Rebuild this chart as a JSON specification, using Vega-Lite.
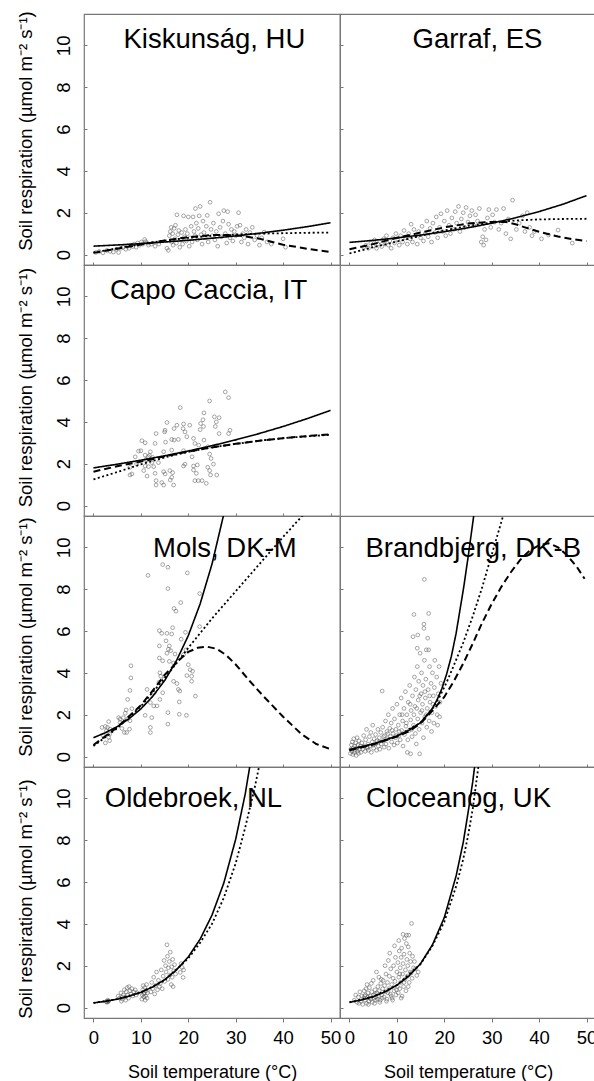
{
"$schema": "https://vega.github.io/schema/vega-lite/v6.json",
"padding": {"left": 15, "top": 10, "right": 0, "bottom": 0},
"autosize": {"type": "pad"},
"background": "white",
"config": {
  "font": "Liberation Sans",
  "view": {"stroke": "#777", "strokeWidth": 1.2},
  "axis": {"grid": false, "domain": false, "tickColor": "#777", "labelColor": "black", "titleColor": "black", "labelFont": "Liberation Sans", "titleFont": "Liberation Sans", "titleFontWeight": "normal"}
},
"datasets": {
"labels": [
{"s":"KI","x":25.5,"y":9.89,"name":"Kiskunság, HU"},
{"s":"GA","x":27.0,"y":9.89,"name":"Garraf, ES"},
{"s":"CA","x":24.3,"y":9.87,"name":"Capo Caccia, IT"},
{"s":"MO","x":27.7,"y":9.53,"name":"Mols, DK-M"},
{"s":"BR","x":26.1,"y":9.56,"name":"Brandbjerg, DK-B"},
{"s":"OL","x":21.1,"y":9.6,"name":"Oldebroek, NL"},
{"s":"CL","x":23.0,"y":9.6,"name":"Cloceanog, UK"}
],
"curves": [
{"s":"KI","t":"solid","x":0,"y":0.4},{"s":"KI","t":"solid","x":5,"y":0.457},{"s":"KI","t":"solid","x":10,"y":0.522},{"s":"KI","t":"solid","x":15,"y":0.597},{"s":"KI","t":"solid","x":20,"y":0.682},{"s":"KI","t":"solid","x":25,"y":0.78},{"s":"KI","t":"solid","x":30,"y":0.891},{"s":"KI","t":"solid","x":35,"y":1.018},{"s":"KI","t":"solid","x":40,"y":1.164},{"s":"KI","t":"solid","x":45,"y":1.33},{"s":"KI","t":"solid","x":50,"y":1.52},
{"s":"KI","t":"dotted","x":0,"y":0.1},{"s":"KI","t":"dotted","x":5,"y":0.3},{"s":"KI","t":"dotted","x":10,"y":0.5},{"s":"KI","t":"dotted","x":15,"y":0.67},{"s":"KI","t":"dotted","x":20,"y":0.8},{"s":"KI","t":"dotted","x":25,"y":0.9},{"s":"KI","t":"dotted","x":30,"y":0.96},{"s":"KI","t":"dotted","x":35,"y":1.0},{"s":"KI","t":"dotted","x":40,"y":1.02},{"s":"KI","t":"dotted","x":45,"y":1.04},{"s":"KI","t":"dotted","x":50,"y":1.05},
{"s":"KI","t":"dashed","x":0,"y":0.08},{"s":"KI","t":"dashed","x":5,"y":0.28},{"s":"KI","t":"dashed","x":10,"y":0.48},{"s":"KI","t":"dashed","x":15,"y":0.67},{"s":"KI","t":"dashed","x":20,"y":0.83},{"s":"KI","t":"dashed","x":25,"y":0.93},{"s":"KI","t":"dashed","x":28,"y":0.94},{"s":"KI","t":"dashed","x":31,"y":0.9},{"s":"KI","t":"dashed","x":35,"y":0.76},{"s":"KI","t":"dashed","x":40,"y":0.47},{"s":"KI","t":"dashed","x":45,"y":0.28},{"s":"KI","t":"dashed","x":50,"y":0.12},
{"s":"GA","t":"solid","x":0,"y":0.58},{"s":"GA","t":"solid","x":5,"y":0.679},{"s":"GA","t":"solid","x":10,"y":0.796},{"s":"GA","t":"solid","x":15,"y":0.932},{"s":"GA","t":"solid","x":20,"y":1.091},{"s":"GA","t":"solid","x":25,"y":1.278},{"s":"GA","t":"solid","x":30,"y":1.497},{"s":"GA","t":"solid","x":35,"y":1.753},{"s":"GA","t":"solid","x":40,"y":2.053},{"s":"GA","t":"solid","x":45,"y":2.404},{"s":"GA","t":"solid","x":50,"y":2.816},
{"s":"GA","t":"dotted","x":0,"y":0.05},{"s":"GA","t":"dotted","x":5,"y":0.35},{"s":"GA","t":"dotted","x":10,"y":0.62},{"s":"GA","t":"dotted","x":15,"y":0.9},{"s":"GA","t":"dotted","x":20,"y":1.15},{"s":"GA","t":"dotted","x":25,"y":1.37},{"s":"GA","t":"dotted","x":30,"y":1.53},{"s":"GA","t":"dotted","x":35,"y":1.63},{"s":"GA","t":"dotted","x":40,"y":1.68},{"s":"GA","t":"dotted","x":45,"y":1.7},{"s":"GA","t":"dotted","x":50,"y":1.71},
{"s":"GA","t":"dashed","x":0,"y":0.25},{"s":"GA","t":"dashed","x":5,"y":0.5},{"s":"GA","t":"dashed","x":10,"y":0.8},{"s":"GA","t":"dashed","x":15,"y":1.05},{"s":"GA","t":"dashed","x":20,"y":1.3},{"s":"GA","t":"dashed","x":25,"y":1.48},{"s":"GA","t":"dashed","x":30,"y":1.56},{"s":"GA","t":"dashed","x":33,"y":1.56},{"s":"GA","t":"dashed","x":35,"y":1.45},{"s":"GA","t":"dashed","x":37,"y":1.3},{"s":"GA","t":"dashed","x":40,"y":1.09},{"s":"GA","t":"dashed","x":44,"y":0.86},{"s":"GA","t":"dashed","x":47,"y":0.74},{"s":"GA","t":"dashed","x":50,"y":0.64},
{"s":"CA","t":"solid","x":0,"y":1.8},{"s":"CA","t":"solid","x":5,"y":1.975},{"s":"CA","t":"solid","x":10,"y":2.167},{"s":"CA","t":"solid","x":15,"y":2.377},{"s":"CA","t":"solid","x":20,"y":2.608},{"s":"CA","t":"solid","x":25,"y":2.862},{"s":"CA","t":"solid","x":30,"y":3.14},{"s":"CA","t":"solid","x":35,"y":3.445},{"s":"CA","t":"solid","x":40,"y":3.78},{"s":"CA","t":"solid","x":45,"y":4.149},{"s":"CA","t":"solid","x":50,"y":4.55},
{"s":"CA","t":"dashed","x":0,"y":1.62},{"s":"CA","t":"dashed","x":5,"y":1.88},{"s":"CA","t":"dashed","x":10,"y":2.1},{"s":"CA","t":"dashed","x":15,"y":2.35},{"s":"CA","t":"dashed","x":20,"y":2.58},{"s":"CA","t":"dashed","x":25,"y":2.78},{"s":"CA","t":"dashed","x":30,"y":2.95},{"s":"CA","t":"dashed","x":35,"y":3.1},{"s":"CA","t":"dashed","x":40,"y":3.22},{"s":"CA","t":"dashed","x":45,"y":3.32},{"s":"CA","t":"dashed","x":50,"y":3.4},
{"s":"CA","t":"dotted","x":0,"y":1.25},{"s":"CA","t":"dotted","x":5,"y":1.6},{"s":"CA","t":"dotted","x":10,"y":1.97},{"s":"CA","t":"dotted","x":15,"y":2.3},{"s":"CA","t":"dotted","x":20,"y":2.57},{"s":"CA","t":"dotted","x":25,"y":2.78},{"s":"CA","t":"dotted","x":30,"y":2.95},{"s":"CA","t":"dotted","x":35,"y":3.1},{"s":"CA","t":"dotted","x":40,"y":3.22},{"s":"CA","t":"dotted","x":45,"y":3.31},{"s":"CA","t":"dotted","x":50,"y":3.38},
{"s":"MO","t":"solid","x":0,"y":0.9},{"s":"MO","t":"solid","x":2.5,"y":1.14},{"s":"MO","t":"solid","x":5,"y":1.43},{"s":"MO","t":"solid","x":7.5,"y":1.81},{"s":"MO","t":"solid","x":10,"y":2.28},{"s":"MO","t":"solid","x":12.5,"y":2.88},{"s":"MO","t":"solid","x":15,"y":3.63},{"s":"MO","t":"solid","x":17.5,"y":4.58},{"s":"MO","t":"solid","x":20,"y":5.78},{"s":"MO","t":"solid","x":22.5,"y":7.3},{"s":"MO","t":"solid","x":25,"y":9.2},{"s":"MO","t":"solid","x":27.5,"y":11.6},{"s":"MO","t":"solid","x":28,"y":12.2},
{"s":"MO","t":"dotted","x":0,"y":0.5},{"s":"MO","t":"dotted","x":5,"y":1.35},{"s":"MO","t":"dotted","x":10,"y":2.4},{"s":"MO","t":"dotted","x":15,"y":3.75},{"s":"MO","t":"dotted","x":18,"y":4.6},{"s":"MO","t":"dotted","x":20,"y":5.2},{"s":"MO","t":"dotted","x":25,"y":6.6},{"s":"MO","t":"dotted","x":30,"y":7.9},{"s":"MO","t":"dotted","x":35,"y":9.2},{"s":"MO","t":"dotted","x":40,"y":10.5},{"s":"MO","t":"dotted","x":44,"y":11.5},{"s":"MO","t":"dotted","x":45,"y":11.75},
{"s":"MO","t":"dashed","x":0,"y":0.55},{"s":"MO","t":"dashed","x":5,"y":1.4},{"s":"MO","t":"dashed","x":10,"y":2.45},{"s":"MO","t":"dashed","x":13,"y":3.3},{"s":"MO","t":"dashed","x":15,"y":3.9},{"s":"MO","t":"dashed","x":18,"y":4.6},{"s":"MO","t":"dashed","x":20,"y":5.0},{"s":"MO","t":"dashed","x":22,"y":5.2},{"s":"MO","t":"dashed","x":24,"y":5.25},{"s":"MO","t":"dashed","x":26,"y":5.15},{"s":"MO","t":"dashed","x":28,"y":4.85},{"s":"MO","t":"dashed","x":30,"y":4.4},{"s":"MO","t":"dashed","x":33,"y":3.6},{"s":"MO","t":"dashed","x":36,"y":2.85},{"s":"MO","t":"dashed","x":40,"y":1.9},{"s":"MO","t":"dashed","x":44,"y":1.05},{"s":"MO","t":"dashed","x":47,"y":0.6},{"s":"MO","t":"dashed","x":50,"y":0.35},
{"s":"BR","t":"solid","x":0,"y":0.33},{"s":"BR","t":"solid","x":5,"y":0.6},{"s":"BR","t":"solid","x":10,"y":0.98},{"s":"BR","t":"solid","x":12.5,"y":1.25},{"s":"BR","t":"solid","x":15,"y":1.62},{"s":"BR","t":"solid","x":17.5,"y":2.3},{"s":"BR","t":"solid","x":18.5,"y":2.73},{"s":"BR","t":"solid","x":19.5,"y":3.25},{"s":"BR","t":"solid","x":20.5,"y":3.95},{"s":"BR","t":"solid","x":21.5,"y":4.8},{"s":"BR","t":"solid","x":22.5,"y":5.9},{"s":"BR","t":"solid","x":23.3,"y":7.0},{"s":"BR","t":"solid","x":24.1,"y":8.1},{"s":"BR","t":"solid","x":25,"y":9.5},{"s":"BR","t":"solid","x":26.2,"y":11.5},{"s":"BR","t":"solid","x":26.5,"y":12.0},
{"s":"BR","t":"dotted","x":0,"y":0.33},{"s":"BR","t":"dotted","x":5,"y":0.6},{"s":"BR","t":"dotted","x":10,"y":0.98},{"s":"BR","t":"dotted","x":15,"y":1.62},{"s":"BR","t":"dotted","x":17.5,"y":2.3},{"s":"BR","t":"dotted","x":19,"y":2.85},{"s":"BR","t":"dotted","x":20.5,"y":3.55},{"s":"BR","t":"dotted","x":22,"y":4.35},{"s":"BR","t":"dotted","x":24,"y":5.45},{"s":"BR","t":"dotted","x":26,"y":6.7},{"s":"BR","t":"dotted","x":28,"y":8.1},{"s":"BR","t":"dotted","x":30,"y":9.65},{"s":"BR","t":"dotted","x":32.4,"y":11.5},{"s":"BR","t":"dotted","x":32.8,"y":11.9},
{"s":"BR","t":"dashed","x":0,"y":0.3},{"s":"BR","t":"dashed","x":5,"y":0.57},{"s":"BR","t":"dashed","x":10,"y":0.95},{"s":"BR","t":"dashed","x":12.5,"y":1.2},{"s":"BR","t":"dashed","x":15,"y":1.58},{"s":"BR","t":"dashed","x":17.5,"y":2.2},{"s":"BR","t":"dashed","x":20,"y":2.85},{"s":"BR","t":"dashed","x":22,"y":3.6},{"s":"BR","t":"dashed","x":24,"y":4.45},{"s":"BR","t":"dashed","x":26,"y":5.4},{"s":"BR","t":"dashed","x":28,"y":6.4},{"s":"BR","t":"dashed","x":30,"y":7.3},{"s":"BR","t":"dashed","x":32,"y":8.1},{"s":"BR","t":"dashed","x":34,"y":8.8},{"s":"BR","t":"dashed","x":36,"y":9.4},{"s":"BR","t":"dashed","x":38,"y":9.85},{"s":"BR","t":"dashed","x":40,"y":10.1},{"s":"BR","t":"dashed","x":42,"y":10.2},{"s":"BR","t":"dashed","x":44,"y":10.0},{"s":"BR","t":"dashed","x":46,"y":9.6},{"s":"BR","t":"dashed","x":48,"y":9.05},{"s":"BR","t":"dashed","x":49.6,"y":8.5},
{"s":"OL","t":"solid","x":0,"y":0.22},{"s":"OL","t":"solid","x":2.5,"y":0.297},{"s":"OL","t":"solid","x":5,"y":0.401},{"s":"OL","t":"solid","x":7.5,"y":0.541},{"s":"OL","t":"solid","x":10,"y":0.73},{"s":"OL","t":"solid","x":12.5,"y":0.986},{"s":"OL","t":"solid","x":15,"y":1.33},{"s":"OL","t":"solid","x":17.5,"y":1.8},{"s":"OL","t":"solid","x":20,"y":2.42},{"s":"OL","t":"solid","x":22.5,"y":3.27},{"s":"OL","t":"solid","x":25,"y":4.42},{"s":"OL","t":"solid","x":27.5,"y":5.96},{"s":"OL","t":"solid","x":30,"y":8.05},{"s":"OL","t":"solid","x":32,"y":10.2},{"s":"OL","t":"solid","x":33.5,"y":12.25},
{"s":"OL","t":"dotted","x":0,"y":0.22},{"s":"OL","t":"dotted","x":5,"y":0.4},{"s":"OL","t":"dotted","x":10,"y":0.72},{"s":"OL","t":"dotted","x":15,"y":1.3},{"s":"OL","t":"dotted","x":20,"y":2.35},{"s":"OL","t":"dotted","x":22.5,"y":3.1},{"s":"OL","t":"dotted","x":25,"y":4.0},{"s":"OL","t":"dotted","x":27.5,"y":5.25},{"s":"OL","t":"dotted","x":30,"y":6.9},{"s":"OL","t":"dotted","x":32,"y":8.6},{"s":"OL","t":"dotted","x":34,"y":10.5},{"s":"OL","t":"dotted","x":35,"y":11.6},
{"s":"CL","t":"solid","x":0,"y":0.25},{"s":"CL","t":"solid","x":2.5,"y":0.36},{"s":"CL","t":"solid","x":5,"y":0.52},{"s":"CL","t":"solid","x":7.5,"y":0.75},{"s":"CL","t":"solid","x":10,"y":1.07},{"s":"CL","t":"solid","x":12.5,"y":1.5},{"s":"CL","t":"solid","x":15,"y":2.1},{"s":"CL","t":"solid","x":17.5,"y":3.0},{"s":"CL","t":"solid","x":20,"y":4.3},{"s":"CL","t":"solid","x":22.5,"y":6.3},{"s":"CL","t":"solid","x":24,"y":7.9},{"s":"CL","t":"solid","x":25,"y":9.3},{"s":"CL","t":"solid","x":26,"y":10.8},{"s":"CL","t":"solid","x":26.5,"y":11.7},
{"s":"CL","t":"dotted","x":0,"y":0.25},{"s":"CL","t":"dotted","x":5,"y":0.52},{"s":"CL","t":"dotted","x":10,"y":1.07},{"s":"CL","t":"dotted","x":15,"y":2.08},{"s":"CL","t":"dotted","x":17.5,"y":2.95},{"s":"CL","t":"dotted","x":20,"y":4.1},{"s":"CL","t":"dotted","x":22.5,"y":5.8},{"s":"CL","t":"dotted","x":24,"y":7.1},{"s":"CL","t":"dotted","x":25,"y":8.2},{"s":"CL","t":"dotted","x":26,"y":9.5},{"s":"CL","t":"dotted","x":27,"y":11.2},{"s":"CL","t":"dotted","x":27.3,"y":11.7}
],
"pts": [
{"s":"KI","x":0.5,"y":0.1},{"s":"KI","x":1.2,"y":0.15},{"s":"KI","x":2,"y":0.08},{"s":"KI","x":2.8,"y":0.2},{"s":"KI","x":3.5,"y":0.15},{"s":"KI","x":4.2,"y":0.12},{"s":"KI","x":4.8,"y":0.25},{"s":"KI","x":5.3,"y":0.1},{"s":"KI","x":5.8,"y":0.3},{"s":"KI","x":6.3,"y":0.35},{"s":"KI","x":6.8,"y":0.25},{"s":"KI","x":7.2,"y":0.4},{"s":"KI","x":7.5,"y":0.3},{"s":"KI","x":7.9,"y":0.45},{"s":"KI","x":8.3,"y":0.38},{"s":"KI","x":8.6,"y":0.5},{"s":"KI","x":9,"y":0.35},{"s":"KI","x":9.3,"y":0.55},{"s":"KI","x":9.7,"y":0.45},{"s":"KI","x":10.1,"y":0.6},{"s":"KI","x":10.4,"y":0.5},{"s":"KI","x":10.8,"y":0.72},{"s":"KI","x":11,"y":0.62},{"s":"KI","x":11.3,"y":0.55},{"s":"KI","x":11.6,"y":0.45},{"s":"KI","x":12.2,"y":0.5},{"s":"KI","x":13,"y":0.4},{"s":"KI","x":13.8,"y":0.5},
{"s":"KI","x":15.5,"y":0.3},{"s":"KI","x":15.8,"y":0.2},{"s":"KI","x":16,"y":0.9},{"s":"KI","x":16.2,"y":1.1},{"s":"KI","x":16.4,"y":1.3},{"s":"KI","x":16.5,"y":0.6},{"s":"KI","x":16.7,"y":1.0},{"s":"KI","x":16.8,"y":0.45},{"s":"KI","x":17,"y":1.25},{"s":"KI","x":17.2,"y":0.75},{"s":"KI","x":17.3,"y":1.4},{"s":"KI","x":17.5,"y":0.55},{"s":"KI","x":17.6,"y":1.9},{"s":"KI","x":17.8,"y":0.95},{"s":"KI","x":18,"y":1.15},{"s":"KI","x":18.2,"y":0.35},{"s":"KI","x":18.4,"y":0.7},{"s":"KI","x":18.6,"y":1.05},{"s":"KI","x":18.8,"y":0.5},{"s":"KI","x":19,"y":1.85},{"s":"KI","x":19.2,"y":0.85},{"s":"KI","x":19.4,"y":1.2},{"s":"KI","x":19.6,"y":0.65},{"s":"KI","x":19.8,"y":1.0},{"s":"KI","x":20,"y":1.8},{"s":"KI","x":20.2,"y":0.4},{"s":"KI","x":20.4,"y":0.8},{"s":"KI","x":20.6,"y":1.35},{"s":"KI","x":20.8,"y":0.6},{"s":"KI","x":21,"y":1.8},{"s":"KI","x":21.2,"y":1.1},{"s":"KI","x":21.4,"y":0.9},{"s":"KI","x":21.5,"y":2.2},{"s":"KI","x":21.7,"y":1.5},{"s":"KI","x":21.9,"y":0.7},{"s":"KI","x":22.1,"y":1.25},{"s":"KI","x":22.3,"y":1.85},{"s":"KI","x":22.5,"y":2.3},{"s":"KI","x":22.7,"y":0.95},{"s":"KI","x":22.9,"y":0.5},{"s":"KI","x":23.1,"y":1.6},{"s":"KI","x":23.3,"y":1.05},{"s":"KI","x":23.5,"y":0.8},{"s":"KI","x":23.8,"y":1.35},{"s":"KI","x":24,"y":1.87},{"s":"KI","x":24.2,"y":0.6},{"s":"KI","x":24.6,"y":2.5},{"s":"KI","x":24.8,"y":1.2},{"s":"KI","x":25,"y":0.9},{"s":"KI","x":25.3,"y":1.5},{"s":"KI","x":25.6,"y":0.7},{"s":"KI","x":25.9,"y":1.1},{"s":"KI","x":26.2,"y":0.4},{"s":"KI","x":26.4,"y":1.95},{"s":"KI","x":26.7,"y":1.3},{"s":"KI","x":27,"y":0.85},{"s":"KI","x":27.3,"y":1.6},{"s":"KI","x":27.5,"y":2.1},{"s":"KI","x":27.8,"y":1.0},{"s":"KI","x":28.1,"y":0.55},{"s":"KI","x":28.3,"y":2.05},{"s":"KI","x":28.5,"y":1.45},{"s":"KI","x":28.8,"y":0.8},{"s":"KI","x":29.1,"y":1.2},{"s":"KI","x":29.4,"y":0.65},{"s":"KI","x":29.7,"y":1.1},{"s":"KI","x":30,"y":0.9},{"s":"KI","x":30.3,"y":1.35},{"s":"KI","x":30.6,"y":2.0},{"s":"KI","x":30.9,"y":1.4},{"s":"KI","x":31.2,"y":0.6},{"s":"KI","x":31.5,"y":1.0},{"s":"KI","x":31.8,"y":0.8},{"s":"KI","x":32.2,"y":1.2},{"s":"KI","x":32.6,"y":0.5},{"s":"KI","x":33,"y":1.05},{"s":"KI","x":33.5,"y":1.3},{"s":"KI","x":34,"y":0.7},{"s":"KI","x":34.5,"y":0.9},{"s":"KI","x":35,"y":0.45},{"s":"KI","x":35.5,"y":0.8},{"s":"KI","x":36,"y":1.07},{"s":"KI","x":36.6,"y":0.6},{"s":"KI","x":37.5,"y":0.5},{"s":"KI","x":40,"y":0.75},{"s":"KI","x":40.5,"y":0.35},
{"s":"GA","x":3,"y":0.35},{"s":"GA","x":3.5,"y":0.45},{"s":"GA","x":4,"y":0.3},{"s":"GA","x":4.5,"y":0.55},{"s":"GA","x":5,"y":0.4},{"s":"GA","x":5.3,"y":0.7},{"s":"GA","x":5.7,"y":0.3},{"s":"GA","x":6,"y":0.5},{"s":"GA","x":6.4,"y":0.62},{"s":"GA","x":6.8,"y":0.38},{"s":"GA","x":7.2,"y":0.75},{"s":"GA","x":7.5,"y":0.5},{"s":"GA","x":7.8,"y":0.9},{"s":"GA","x":8.2,"y":0.45},{"s":"GA","x":8.5,"y":0.65},{"s":"GA","x":8.8,"y":0.3},{"s":"GA","x":9.2,"y":0.8},{"s":"GA","x":9.5,"y":0.55},{"s":"GA","x":9.8,"y":1.0},{"s":"GA","x":10.2,"y":0.7},{"s":"GA","x":10.5,"y":0.45},{"s":"GA","x":10.8,"y":0.9},{"s":"GA","x":11.2,"y":0.6},{"s":"GA","x":11.5,"y":1.15},{"s":"GA","x":11.8,"y":0.8},{"s":"GA","x":12.2,"y":0.5},{"s":"GA","x":12.5,"y":1.0},{"s":"GA","x":12.8,"y":0.75},{"s":"GA","x":13,"y":1.45},{"s":"GA","x":13.3,"y":0.6},{"s":"GA","x":13.6,"y":1.2},{"s":"GA","x":14,"y":0.9},{"s":"GA","x":14.3,"y":0.5},{"s":"GA","x":14.6,"y":1.1},{"s":"GA","x":15,"y":0.8},{"s":"GA","x":15.3,"y":1.35},{"s":"GA","x":15.6,"y":0.65},{"s":"GA","x":16,"y":1.0},{"s":"GA","x":16.3,"y":1.6},{"s":"GA","x":16.6,"y":0.85},{"s":"GA","x":17,"y":1.25},{"s":"GA","x":17.3,"y":0.6},{"s":"GA","x":17.6,"y":1.5},{"s":"GA","x":18,"y":1.05},{"s":"GA","x":18.3,"y":1.8},{"s":"GA","x":18.6,"y":0.8},{"s":"GA","x":19,"y":1.3},{"s":"GA","x":19.3,"y":1.95},{"s":"GA","x":19.6,"y":1.1},{"s":"GA","x":20,"y":1.6},{"s":"GA","x":20.3,"y":0.9},{"s":"GA","x":20.6,"y":2.1},{"s":"GA","x":21,"y":1.4},{"s":"GA","x":21.3,"y":1.0},{"s":"GA","x":21.6,"y":1.75},{"s":"GA","x":22,"y":1.2},{"s":"GA","x":22.3,"y":2.05},{"s":"GA","x":22.6,"y":1.5},{"s":"GA","x":23,"y":2.3},{"s":"GA","x":23.3,"y":1.1},{"s":"GA","x":23.6,"y":1.7},{"s":"GA","x":24,"y":2.0},{"s":"GA","x":24.3,"y":1.3},{"s":"GA","x":24.6,"y":2.25},{"s":"GA","x":25,"y":1.55},{"s":"GA","x":25.4,"y":1.85},{"s":"GA","x":25.8,"y":2.1},{"s":"GA","x":26.2,"y":1.4},{"s":"GA","x":26.6,"y":1.9},{"s":"GA","x":27,"y":1.6},{"s":"GA","x":27.4,"y":2.2},{"s":"GA","x":27.8,"y":0.6},{"s":"GA","x":28.1,"y":0.85},{"s":"GA","x":28.3,"y":0.45},{"s":"GA","x":28.5,"y":1.2},{"s":"GA","x":28.8,"y":0.7},{"s":"GA","x":29.1,"y":1.75},{"s":"GA","x":29.4,"y":2.15},{"s":"GA","x":29.8,"y":1.3},{"s":"GA","x":30.2,"y":1.9},{"s":"GA","x":30.6,"y":1.55},{"s":"GA","x":31,"y":2.15},{"s":"GA","x":31.5,"y":1.2},{"s":"GA","x":32,"y":1.5},{"s":"GA","x":32.5,"y":2.2},{"s":"GA","x":33,"y":1.0},{"s":"GA","x":33.5,"y":1.7},{"s":"GA","x":34,"y":0.75},{"s":"GA","x":34.4,"y":2.6},{"s":"GA","x":35.2,"y":1.2},{"s":"GA","x":35.8,"y":1.5},{"s":"GA","x":36.5,"y":1.85},{"s":"GA","x":37,"y":1.1},{"s":"GA","x":37.5,"y":2.0},{"s":"GA","x":38,"y":1.3},{"s":"GA","x":38.5,"y":0.9},{"s":"GA","x":39,"y":1.1},{"s":"GA","x":40.5,"y":0.75},{"s":"GA","x":42,"y":0.93},{"s":"GA","x":44,"y":1.17},{"s":"GA","x":47,"y":0.55},
{"s":"CA","x":27.8,"y":5.43},{"s":"CA","x":28.5,"y":5.16},{"s":"CA","x":24.5,"y":5.0},{"s":"CA","x":18.3,"y":4.68},{"s":"CA","x":23.3,"y":4.43},{"s":"CA","x":25.5,"y":4.24},{"s":"CA","x":26.5,"y":4.2},{"s":"CA","x":23.1,"y":4.1},{"s":"CA","x":25.9,"y":4.0},{"s":"CA","x":15.5,"y":3.97},{"s":"CA","x":19,"y":3.9},{"s":"CA","x":17.6,"y":3.84},{"s":"CA","x":20.3,"y":3.84},{"s":"CA","x":22.6,"y":3.92},{"s":"CA","x":23.2,"y":3.78},{"s":"CA","x":25.7,"y":3.78},{"s":"CA","x":15.1,"y":3.6},{"s":"CA","x":17,"y":3.68},{"s":"CA","x":18.9,"y":3.68},{"s":"CA","x":19.3,"y":3.52},{"s":"CA","x":22.5,"y":3.63},{"s":"CA","x":28.8,"y":3.6},{"s":"CA","x":28.5,"y":3.44},{"s":"CA","x":26.5,"y":3.44},{"s":"CA","x":13.2,"y":3.44},{"s":"CA","x":15,"y":3.52},{"s":"CA","x":16.5,"y":3.16},{"s":"CA","x":17.9,"y":3.16},{"s":"CA","x":19.7,"y":3.29},{"s":"CA","x":21.1,"y":3.21},{"s":"CA","x":21.4,"y":2.97},{"s":"CA","x":22.2,"y":2.89},{"s":"CA","x":23.3,"y":3.13},{"s":"CA","x":24.1,"y":2.81},{"s":"CA","x":10.2,"y":3.1},{"s":"CA","x":10.9,"y":3.0},{"s":"CA","x":13,"y":2.97},{"s":"CA","x":15.2,"y":3.03},{"s":"CA","x":17,"y":3.13},{"s":"CA","x":10,"y":2.62},{"s":"CA","x":12,"y":2.57},{"s":"CA","x":14.8,"y":2.57},{"s":"CA","x":16.5,"y":2.65},{"s":"CA","x":19,"y":2.62},{"s":"CA","x":8.8,"y":2.33},{"s":"CA","x":10.9,"y":2.41},{"s":"CA","x":11.6,"y":2.33},{"s":"CA","x":11.3,"y":2.17},{"s":"CA","x":12.3,"y":2.05},{"s":"CA","x":13.7,"y":2.05},{"s":"CA","x":9.1,"y":1.98},{"s":"CA","x":10.9,"y":1.89},{"s":"CA","x":11.6,"y":1.86},{"s":"CA","x":7.7,"y":1.83},{"s":"CA","x":8.1,"y":1.51},{"s":"CA","x":10.6,"y":1.67},{"s":"CA","x":11.3,"y":1.41},{"s":"CA","x":12.7,"y":1.86},{"s":"CA","x":13,"y":1.54},{"s":"CA","x":14.8,"y":1.62},{"s":"CA","x":15.1,"y":1.51},{"s":"CA","x":16.1,"y":1.67},{"s":"CA","x":16.7,"y":1.57},{"s":"CA","x":16.5,"y":1.35},{"s":"CA","x":16.2,"y":1.22},{"s":"CA","x":13.2,"y":1.19},{"s":"CA","x":14.4,"y":1.1},{"s":"CA","x":14.8,"y":0.98},{"s":"CA","x":13.2,"y":0.98},{"s":"CA","x":16.9,"y":0.98},{"s":"CA","x":19,"y":1.89},{"s":"CA","x":19.3,"y":1.98},{"s":"CA","x":21.1,"y":1.89},{"s":"CA","x":21.9,"y":1.94},{"s":"CA","x":21.1,"y":1.7},{"s":"CA","x":21.7,"y":1.54},{"s":"CA","x":24.1,"y":1.83},{"s":"CA","x":24.5,"y":1.67},{"s":"CA","x":24.7,"y":1.46},{"s":"CA","x":26,"y":1.46},{"s":"CA","x":25.3,"y":1.98},{"s":"CA","x":24.8,"y":2.25},{"s":"CA","x":24.5,"y":2.46},{"s":"CA","x":21.4,"y":1.19},{"s":"CA","x":22.1,"y":1.19},{"s":"CA","x":22.9,"y":1.19},{"s":"CA","x":23.8,"y":1.06},{"s":"CA","x":20.8,"y":2.33},{"s":"CA","x":7.7,"y":1.46},{"s":"CA","x":9.5,"y":2.6},{"s":"CA","x":11,"y":2.2},{"s":"CA","x":11.8,"y":2.4},{"s":"CA","x":12.5,"y":2.3},
{"s":"MO","x":14.6,"y":9.18},{"s":"MO","x":15.7,"y":9.05},{"s":"MO","x":11.5,"y":8.66},{"s":"MO","x":19.8,"y":8.78},{"s":"MO","x":15.7,"y":8.03},{"s":"MO","x":22.4,"y":7.79},{"s":"MO","x":18.4,"y":7.36},{"s":"MO","x":17,"y":7.08},{"s":"MO","x":17.4,"y":6.95},{"s":"MO","x":22.4,"y":6.21},{"s":"MO","x":18.5,"y":5.61},{"s":"MO","x":16.7,"y":6.16},{"s":"MO","x":13.9,"y":6.02},{"s":"MO","x":14.4,"y":5.89},{"s":"MO","x":15.5,"y":5.89},{"s":"MO","x":16.5,"y":5.86},{"s":"MO","x":19.4,"y":5.94},{"s":"MO","x":15.3,"y":5.53},{"s":"MO","x":13.9,"y":5.29},{"s":"MO","x":16,"y":5.29},{"s":"MO","x":15.8,"y":5.13},{"s":"MO","x":16.3,"y":5.06},{"s":"MO","x":17.2,"y":4.9},{"s":"MO","x":15.5,"y":4.94},{"s":"MO","x":13.9,"y":4.71},{"s":"MO","x":14.6,"y":4.58},{"s":"MO","x":16,"y":4.55},{"s":"MO","x":16.9,"y":4.47},{"s":"MO","x":19,"y":4.87},{"s":"MO","x":19.5,"y":5.1},{"s":"MO","x":20,"y":4.39},{"s":"MO","x":20.4,"y":4.15},{"s":"MO","x":20.9,"y":4.08},{"s":"MO","x":20.7,"y":3.84},{"s":"MO","x":20.7,"y":3.6},{"s":"MO","x":19.7,"y":3.87},{"s":"MO","x":14,"y":4.0},{"s":"MO","x":14.2,"y":3.84},{"s":"MO","x":14.9,"y":3.71},{"s":"MO","x":13.8,"y":3.55},{"s":"MO","x":16.9,"y":3.6},{"s":"MO","x":17.6,"y":3.49},{"s":"MO","x":14.6,"y":3.05},{"s":"MO","x":17.9,"y":3.21},{"s":"MO","x":18.2,"y":3.13},{"s":"MO","x":21.5,"y":2.89},{"s":"MO","x":14,"y":2.73},{"s":"MO","x":11.3,"y":3.21},{"s":"MO","x":12.8,"y":3.05},{"s":"MO","x":12,"y":2.58},{"s":"MO","x":12.7,"y":2.42},{"s":"MO","x":13.4,"y":2.42},{"s":"MO","x":18.1,"y":2.61},{"s":"MO","x":15.7,"y":2.1},{"s":"MO","x":18.1,"y":2.02},{"s":"MO","x":19.6,"y":1.97},{"s":"MO","x":10.9,"y":1.97},{"s":"MO","x":12.3,"y":1.86},{"s":"MO","x":15.7,"y":1.55},{"s":"MO","x":7.9,"y":4.34},{"s":"MO","x":7.9,"y":3.76},{"s":"MO","x":7.7,"y":3.16},{"s":"MO","x":7.2,"y":2.73},{"s":"MO","x":8.1,"y":2.29},{"s":"MO","x":6.9,"y":2.23},{"s":"MO","x":6.7,"y":2.07},{"s":"MO","x":5.3,"y":1.86},{"s":"MO","x":5.6,"y":1.79},{"s":"MO","x":6.3,"y":1.86},{"s":"MO","x":7.2,"y":1.79},{"s":"MO","x":7.7,"y":1.71},{"s":"MO","x":3.2,"y":1.67},{"s":"MO","x":2.5,"y":1.44},{"s":"MO","x":2.95,"y":1.39},{"s":"MO","x":3.5,"y":1.31},{"s":"MO","x":6,"y":1.34},{"s":"MO","x":6.5,"y":1.15},{"s":"MO","x":7,"y":1.15},{"s":"MO","x":7.6,"y":1.31},{"s":"MO","x":3.4,"y":1.07},{"s":"MO","x":3.2,"y":0.92},{"s":"MO","x":3.4,"y":0.76},{"s":"MO","x":2.5,"y":0.65},{"s":"MO","x":12,"y":1.39},{"s":"MO","x":12,"y":1.15},{"s":"MO","x":1.8,"y":1.39},{"s":"MO","x":2.7,"y":1.23},{"s":"MO","x":5.6,"y":1.63},{"s":"MO","x":2.1,"y":1.0},
{"s":"BR","x":0.2,"y":0.15},{"s":"BR","x":0.3,"y":0.35},{"s":"BR","x":0.4,"y":0.55},{"s":"BR","x":0.5,"y":0.25},{"s":"BR","x":0.6,"y":0.7},{"s":"BR","x":0.7,"y":0.1},{"s":"BR","x":0.8,"y":0.4},{"s":"BR","x":0.9,"y":0.85},{"s":"BR","x":1.0,"y":0.2},{"s":"BR","x":1.1,"y":0.5},{"s":"BR","x":1.2,"y":0.3},{"s":"BR","x":1.3,"y":0.65},{"s":"BR","x":1.4,"y":0.05},{"s":"BR","x":1.5,"y":0.4},{"s":"BR","x":1.6,"y":0.9},{"s":"BR","x":1.7,"y":0.25},{"s":"BR","x":1.8,"y":0.55},{"s":"BR","x":1.9,"y":0.15},{"s":"BR","x":2.0,"y":0.75},{"s":"BR","x":2.1,"y":0.35},{"s":"BR","x":2.3,"y":0.5},{"s":"BR","x":2.4,"y":0.2},
{"s":"BR","x":2.6,"y":0.65},{"s":"BR","x":2.8,"y":0.35},{"s":"BR","x":3.0,"y":1.0},{"s":"BR","x":3.1,"y":0.5},{"s":"BR","x":3.3,"y":0.25},{"s":"BR","x":3.4,"y":0.8},{"s":"BR","x":3.6,"y":1.3},{"s":"BR","x":3.7,"y":0.45},{"s":"BR","x":3.9,"y":0.6},{"s":"BR","x":4.0,"y":0.3},{"s":"BR","x":4.2,"y":0.95},{"s":"BR","x":4.3,"y":0.5},{"s":"BR","x":4.5,"y":1.15},{"s":"BR","x":4.6,"y":0.2},{"s":"BR","x":4.8,"y":0.7},{"s":"BR","x":4.9,"y":1.5},{"s":"BR","x":5.1,"y":0.4},{"s":"BR","x":5.2,"y":0.85},{"s":"BR","x":5.4,"y":0.6},{"s":"BR","x":5.5,"y":1.05},{"s":"BR","x":5.7,"y":0.3},{"s":"BR","x":5.8,"y":0.75},{"s":"BR","x":6.0,"y":1.3},{"s":"BR","x":6.1,"y":0.5},
{"s":"BR","x":6.3,"y":0.9},{"s":"BR","x":6.4,"y":0.35},{"s":"BR","x":6.6,"y":1.15},{"s":"BR","x":6.7,"y":0.6},{"s":"BR","x":6.9,"y":3.13},{"s":"BR","x":7.0,"y":1.4},{"s":"BR","x":7.1,"y":0.75},{"s":"BR","x":7.3,"y":0.45},{"s":"BR","x":7.4,"y":1.0},{"s":"BR","x":7.6,"y":1.7},{"s":"BR","x":7.7,"y":0.6},{"s":"BR","x":7.9,"y":1.2},{"s":"BR","x":8.0,"y":0.85},{"s":"BR","x":8.2,"y":2.0},{"s":"BR","x":8.3,"y":0.4},{"s":"BR","x":8.5,"y":1.35},{"s":"BR","x":8.6,"y":0.95},{"s":"BR","x":8.8,"y":1.6},{"s":"BR","x":8.9,"y":0.7},{"s":"BR","x":9.1,"y":2.3},{"s":"BR","x":9.2,"y":1.1},{"s":"BR","x":9.4,"y":0.55},{"s":"BR","x":9.5,"y":1.8},{"s":"BR","x":9.7,"y":0.9},{"s":"BR","x":9.8,"y":1.3},{"s":"BR","x":10.0,"y":2.5},{"s":"BR","x":10.1,"y":0.65},
{"s":"BR","x":10.3,"y":1.5},{"s":"BR","x":10.4,"y":1.0},{"s":"BR","x":10.6,"y":2.0},{"s":"BR","x":10.7,"y":0.8},{"s":"BR","x":10.9,"y":2.8},{"s":"BR","x":11.0,"y":1.25},{"s":"BR","x":11.2,"y":1.7},{"s":"BR","x":11.3,"y":0.5},{"s":"BR","x":11.5,"y":2.3},{"s":"BR","x":11.6,"y":1.05},{"s":"BR","x":11.8,"y":3.1},{"s":"BR","x":11.9,"y":1.45},{"s":"BR","x":12.1,"y":2.0},{"s":"BR","x":12.2,"y":0.2},{"s":"BR","x":12.3,"y":0.8},{"s":"BR","x":12.4,"y":2.6},{"s":"BR","x":12.6,"y":1.25},{"s":"BR","x":12.7,"y":3.4},{"s":"BR","x":12.9,"y":1.75},{"s":"BR","x":12.9,"y":0.13},{"s":"BR","x":13.0,"y":2.2},{"s":"BR","x":13.2,"y":0.95},{"s":"BR","x":13.3,"y":2.9},{"s":"BR","x":13.4,"y":5.73},{"s":"BR","x":13.5,"y":1.5},{"s":"BR","x":13.6,"y":6.79},{"s":"BR","x":13.7,"y":3.8},{"s":"BR","x":13.8,"y":2.4},{"s":"BR","x":13.9,"y":1.1},{"s":"BR","x":14.0,"y":3.2},{"s":"BR","x":14.1,"y":0.6},
{"s":"BR","x":14.3,"y":4.3},{"s":"BR","x":14.3,"y":5.18},{"s":"BR","x":14.4,"y":5.81},{"s":"BR","x":14.4,"y":1.8},{"s":"BR","x":14.5,"y":2.7},{"s":"BR","x":14.6,"y":3.6},{"s":"BR","x":14.7,"y":1.3},{"s":"BR","x":14.8,"y":0.13},{"s":"BR","x":14.9,"y":4.94},{"s":"BR","x":15.0,"y":2.1},{"s":"BR","x":15.1,"y":3.0},{"s":"BR","x":15.2,"y":4.0},{"s":"BR","x":15.3,"y":1.6},{"s":"BR","x":15.4,"y":2.5},{"s":"BR","x":15.5,"y":3.4},{"s":"BR","x":15.6,"y":0.9},{"s":"BR","x":15.7,"y":6.33},{"s":"BR","x":15.7,"y":6.13},{"s":"BR","x":15.8,"y":8.47},{"s":"BR","x":15.8,"y":4.6},{"s":"BR","x":15.9,"y":1.9},{"s":"BR","x":16.0,"y":2.8},{"s":"BR","x":16.1,"y":3.7},{"s":"BR","x":16.2,"y":5.1},{"s":"BR","x":16.3,"y":1.4},{"s":"BR","x":16.4,"y":2.3},{"s":"BR","x":16.5,"y":5.66},{"s":"BR","x":16.6,"y":3.2},{"s":"BR","x":16.7,"y":6.84},{"s":"BR","x":16.7,"y":5.1},{"s":"BR","x":16.8,"y":1.7},{"s":"BR","x":16.9,"y":4.3},{"s":"BR","x":17.0,"y":2.6},
{"s":"BR","x":17.2,"y":3.5},{"s":"BR","x":17.3,"y":1.2},{"s":"BR","x":17.4,"y":2.1},{"s":"BR","x":17.5,"y":4.0},{"s":"BR","x":17.7,"y":2.9},{"s":"BR","x":17.8,"y":1.6},{"s":"BR","x":17.9,"y":3.3},{"s":"BR","x":18.0,"y":4.6},{"s":"BR","x":18.2,"y":2.4},{"s":"BR","x":18.4,"y":3.8},{"s":"BR","x":18.5,"y":2.0},{"s":"BR","x":18.7,"y":3.0},{"s":"BR","x":18.9,"y":4.3},{"s":"BR","x":19.1,"y":2.6},{"s":"BR","x":19.3,"y":3.5},{"s":"BR","x":18.6,"y":1.5},{"s":"BR","x":19.0,"y":1.9},
{"s":"BR","x":11.1,"y":2.0},{"s":"BR","x":12.0,"y":1.6},{"s":"BR","x":12.8,"y":2.5},{"s":"BR","x":13.1,"y":1.3},{"s":"BR","x":13.6,"y":2.0},{"s":"BR","x":14.2,"y":2.3},{"s":"BR","x":14.8,"y":2.9},{"s":"BR","x":15.3,"y":2.2},{"s":"BR","x":15.9,"y":3.1},{"s":"BR","x":16.2,"y":2.0},{"s":"BR","x":16.9,"y":2.9},{"s":"BR","x":17.6,"y":2.5},{"s":"BR","x":10.5,"y":1.2},{"s":"BR","x":9.9,"y":1.0},{"s":"BR","x":9.0,"y":1.25},{"s":"BR","x":8.1,"y":1.1},{"s":"BR","x":7.2,"y":0.95},{"s":"BR","x":6.2,"y":0.7},{"s":"BR","x":5.0,"y":0.55},{"s":"BR","x":3.8,"y":0.4},
{"s":"OL","x":2.8,"y":0.3},{"s":"OL","x":2.9,"y":0.25},{"s":"OL","x":3.0,"y":0.35},{"s":"OL","x":3.1,"y":0.28},{"s":"OL","x":3.2,"y":0.32},{"s":"OL","x":2.7,"y":0.27},
{"s":"OL","x":5.2,"y":0.55},{"s":"OL","x":5.5,"y":0.45},{"s":"OL","x":5.8,"y":0.7},{"s":"OL","x":6,"y":0.5},{"s":"OL","x":6.1,"y":0.4},{"s":"OL","x":6.3,"y":0.6},{"s":"OL","x":6.5,"y":0.85},{"s":"OL","x":6.7,"y":0.5},{"s":"OL","x":6.9,"y":0.75},{"s":"OL","x":7.1,"y":0.95},{"s":"OL","x":7.2,"y":0.6},{"s":"OL","x":7.4,"y":0.45},{"s":"OL","x":7.5,"y":1.0},{"s":"OL","x":7.7,"y":0.8},{"s":"OL","x":7.9,"y":0.65},{"s":"OL","x":8.1,"y":0.9},{"s":"OL","x":8.3,"y":0.55},{"s":"OL","x":8.5,"y":0.75},{"s":"OL","x":8.8,"y":0.85},{"s":"OL","x":9,"y":0.6},{"s":"OL","x":9.3,"y":0.7},{"s":"OL","x":6.8,"y":0.35},{"s":"OL","x":5.9,"y":0.3},
{"s":"OL","x":10.2,"y":0.4},{"s":"OL","x":10.3,"y":0.6},{"s":"OL","x":10.4,"y":0.85},{"s":"OL","x":10.5,"y":1.05},{"s":"OL","x":10.6,"y":0.5},{"s":"OL","x":10.7,"y":0.7},{"s":"OL","x":10.8,"y":0.95},{"s":"OL","x":10.9,"y":0.35},{"s":"OL","x":11,"y":0.55},{"s":"OL","x":11.1,"y":0.8},{"s":"OL","x":11.2,"y":1.1},{"s":"OL","x":11.3,"y":0.45},{"s":"OL","x":10.6,"y":0.65},{"s":"OL","x":11.4,"y":0.7},
{"s":"OL","x":12.1,"y":0.75},{"s":"OL","x":12.3,"y":1.2},{"s":"OL","x":12.5,"y":0.9},{"s":"OL","x":12.7,"y":1.45},{"s":"OL","x":12.9,"y":0.65},{"s":"OL","x":13.1,"y":1.05},{"s":"OL","x":13.3,"y":1.7},{"s":"OL","x":13.5,"y":0.85},{"s":"OL","x":13.7,"y":1.3},{"s":"OL","x":13.9,"y":1.0},
{"s":"OL","x":14.1,"y":1.15},{"s":"OL","x":14.3,"y":1.8},{"s":"OL","x":14.5,"y":0.9},{"s":"OL","x":14.7,"y":1.5},{"s":"OL","x":14.9,"y":2.25},{"s":"OL","x":15,"y":1.25},{"s":"OL","x":15.2,"y":2.0},{"s":"OL","x":15.3,"y":1.7},{"s":"OL","x":15.5,"y":3.0},{"s":"OL","x":15.6,"y":2.45},{"s":"OL","x":15.7,"y":1.35},{"s":"OL","x":15.8,"y":1.9},{"s":"OL","x":16,"y":2.2},{"s":"OL","x":16.1,"y":1.55},{"s":"OL","x":16.2,"y":2.65},{"s":"OL","x":16.4,"y":1.1},{"s":"OL","x":16.5,"y":1.95},{"s":"OL","x":16.6,"y":1.45},{"s":"OL","x":16.7,"y":2.3},{"s":"OL","x":16.8,"y":1.0},{"s":"OL","x":16.9,"y":1.75},{"s":"OL","x":17.1,"y":2.05},{"s":"OL","x":17.3,"y":1.6},
{"s":"OL","x":18.3,"y":1.68},{"s":"OL","x":18.7,"y":1.92},{"s":"OL","x":18.9,"y":1.44},{"s":"OL","x":18.5,"y":2.1},{"s":"OL","x":19,"y":1.8},
{"s":"CL","x":1,"y":0.35},{"s":"CL","x":1.3,"y":0.6},{"s":"CL","x":1.6,"y":0.25},{"s":"CL","x":1.9,"y":0.5},{"s":"CL","x":2.2,"y":0.75},{"s":"CL","x":2.4,"y":0.3},{"s":"CL","x":2.6,"y":0.55},{"s":"CL","x":2.8,"y":0.15},{"s":"CL","x":3,"y":0.45},{"s":"CL","x":3.1,"y":0.8},{"s":"CL","x":3.3,"y":0.35},{"s":"CL","x":3.4,"y":0.6},{"s":"CL","x":3.6,"y":0.2},{"s":"CL","x":3.7,"y":1.1},{"s":"CL","x":3.8,"y":0.5},{"s":"CL","x":3.9,"y":0.7},{"s":"CL","x":4.1,"y":0.3},{"s":"CL","x":4.2,"y":0.95},{"s":"CL","x":4.4,"y":0.55},{"s":"CL","x":4.5,"y":0.4},{"s":"CL","x":4.7,"y":0.75},{"s":"CL","x":4.8,"y":0.25},{"s":"CL","x":5,"y":1.3},{"s":"CL","x":5.1,"y":0.6},{"s":"CL","x":5.2,"y":0.45},{"s":"CL","x":5.4,"y":0.85},{"s":"CL","x":5.5,"y":0.65},{"s":"CL","x":5.6,"y":0.5},{"s":"CL","x":5.7,"y":1.7},{"s":"CL","x":5.8,"y":0.7},{"s":"CL","x":5.9,"y":0.4},{"s":"CL","x":6,"y":1.0},{"s":"CL","x":6.1,"y":0.55},{"s":"CL","x":6.2,"y":1.45},{"s":"CL","x":6.3,"y":0.8},{"s":"CL","x":6.5,"y":0.35},{"s":"CL","x":6.6,"y":1.15},{"s":"CL","x":6.8,"y":0.6},{"s":"CL","x":7,"y":0.9},{"s":"CL","x":7.1,"y":1.3},{"s":"CL","x":7.3,"y":0.5},{"s":"CL","x":7.4,"y":1.05},{"s":"CL","x":7.6,"y":0.75},{"s":"CL","x":7.7,"y":1.6},{"s":"CL","x":7.9,"y":0.4},{"s":"CL","x":8,"y":1.2},{"s":"CL","x":8.2,"y":2.25},{"s":"CL","x":8.3,"y":0.9},{"s":"CL","x":8.4,"y":1.5},{"s":"CL","x":8.6,"y":0.65},{"s":"CL","x":8.7,"y":1.85},{"s":"CL","x":8.9,"y":1.1},{"s":"CL","x":9,"y":0.45},{"s":"CL","x":9.2,"y":1.4},{"s":"CL","x":9.3,"y":2.0},{"s":"CL","x":9.4,"y":0.8},{"s":"CL","x":9.6,"y":1.25},{"s":"CL","x":9.7,"y":2.4},{"s":"CL","x":9.8,"y":0.6},{"s":"CL","x":10,"y":1.7},{"s":"CL","x":10.1,"y":1.0},{"s":"CL","x":10.2,"y":2.15},{"s":"CL","x":10.3,"y":0.7},{"s":"CL","x":10.4,"y":1.45},{"s":"CL","x":10.5,"y":2.7},{"s":"CL","x":10.6,"y":0.9},{"s":"CL","x":10.7,"y":1.9},{"s":"CL","x":10.8,"y":1.2},{"s":"CL","x":10.9,"y":2.4},{"s":"CL","x":11,"y":2.84},{"s":"CL","x":11.1,"y":0.55},{"s":"CL","x":11.2,"y":1.6},{"s":"CL","x":11.3,"y":2.1},{"s":"CL","x":11.4,"y":1.0},{"s":"CL","x":11.5,"y":2.55},{"s":"CL","x":11.6,"y":3.3},{"s":"CL","x":11.7,"y":1.35},{"s":"CL","x":11.8,"y":1.8},{"s":"CL","x":11.9,"y":0.8},{"s":"CL","x":12,"y":3.06},{"s":"CL","x":12.05,"y":3.46},{"s":"CL","x":12.1,"y":2.3},{"s":"CL","x":12.2,"y":1.5},{"s":"CL","x":12.3,"y":2.0},{"s":"CL","x":12.4,"y":2.9},{"s":"CL","x":12.5,"y":3.46},{"s":"CL","x":12.6,"y":1.2},{"s":"CL","x":12.7,"y":2.6},{"s":"CL","x":12.8,"y":1.7},{"s":"CL","x":12.9,"y":2.2},{"s":"CL","x":13.1,"y":4.02},{"s":"CL","x":13.2,"y":1.4},{"s":"CL","x":13.3,"y":2.45},{"s":"CL","x":13.5,"y":1.9},{"s":"CL","x":13.7,"y":2.2},{"s":"CL","x":13.9,"y":1.85},{"s":"CL","x":14.2,"y":1.53},{"s":"CL","x":14.5,"y":1.7},{"s":"CL","x":6.4,"y":0.25},{"s":"CL","x":5.3,"y":0.2},{"s":"CL","x":4.0,"y":0.15},{"s":"CL","x":7.8,"y":0.3},{"s":"CL","x":9.1,"y":0.35},{"s":"CL","x":2.0,"y":0.2},{"s":"CL","x":3.5,"y":0.9},{"s":"CL","x":4.6,"y":1.15},{"s":"CL","x":8.8,"y":0.55},{"s":"CL","x":10.9,"y":0.45},{"s":"CL","x":6.7,"y":1.35},{"s":"CL","x":7.5,"y":2.0},{"s":"CL","x":8.5,"y":2.6},{"s":"CL","x":9.5,"y":2.95},{"s":"CL","x":10.4,"y":3.2},{"s":"CL","x":11.3,"y":3.5},
{"s":"CL","x":3.2,"y":0.55},{"s":"CL","x":4.3,"y":0.45},{"s":"CL","x":5.5,"y":0.35},{"s":"CL","x":6.9,"y":0.45},{"s":"CL","x":8.1,"y":0.7},{"s":"CL","x":9.9,"y":0.85},{"s":"CL","x":10.6,"y":1.6},{"s":"CL","x":11.5,"y":1.2},{"s":"CL","x":12.4,"y":1.0},{"s":"CL","x":13.0,"y":1.65}
]
},
"columns": 2,
"spacing": 0,
"bounds": "flush",
"concat": [
 {"width": 256, "height": 251, "layer": [
  {"data": {"name": "pts"}, "transform": [{"filter": "datum.s === 'KI'"}], "mark": {"type": "point", "shape": "circle", "filled": false, "size": 14, "stroke": "#4a4a4a", "strokeWidth": 0.7, "clip": true},
   "encoding": {"x": {"field": "x", "type": "quantitative", "scale": {"domain": [-2, 52], "nice": false, "zero": false}, "axis": {"values": [0,10,20,30,40,50], "tickSize": -3, "labels": false, "title": null, "minExtent": 0}},
                "y": {"field": "y", "type": "quantitative", "scale": {"domain": [-0.5, 11.5], "nice": false, "zero": false}, "axis": {"values": [0,2,4,6,8,10], "tickSize": -3, "labelAngle": 270, "labelAlign": "center", "labelBaseline": "bottom", "labelPadding": 14, "labelFontSize": 18.5, "title": "Soil respiration (µmol m⁻² s⁻¹)", "titleFontSize": 18.5, "titleAngle": 270, "titleX": -59, "titleY": 116.5, "titleAlign": "center", "titleBaseline": "middle"}}}},
  {"data": {"name": "curves"}, "transform": [{"filter": "datum.s === 'KI'"}], "mark": {"type": "line", "color": "black", "clip": true},
   "encoding": {"x": {"field": "x", "type": "quantitative"}, "y": {"field": "y", "type": "quantitative"}, "detail": {"field": "t"},
    "strokeDash": {"field": "t", "type": "nominal", "scale": {"domain": ["solid","dotted","dashed"], "range": [[1,0],[2,2.5],[7,4]]}, "legend": null},
    "strokeWidth": {"field": "t", "type": "nominal", "scale": {"domain": ["solid","dotted","dashed"], "range": [1.6,2,1.6]}, "legend": null}}},
  {"data": {"name": "labels"}, "transform": [{"filter": "datum.s === 'KI'"}], "mark": {"type": "text", "fontSize": 27.5, "align": "center", "baseline": "alphabetic", "color": "black"},
   "encoding": {"x": {"field": "x", "type": "quantitative"}, "y": {"field": "y", "type": "quantitative"}, "text": {"field": "name"}}}
 ]},
 {"width": 256, "height": 251, "layer": [
  {"data": {"name": "pts"}, "transform": [{"filter": "datum.s === 'GA'"}], "mark": {"type": "point", "shape": "circle", "filled": false, "size": 14, "stroke": "#4a4a4a", "strokeWidth": 0.7, "clip": true},
   "encoding": {"x": {"field": "x", "type": "quantitative", "scale": {"domain": [-2, 52], "nice": false, "zero": false}, "axis": {"values": [0,10,20,30,40,50], "tickSize": -3, "labels": false, "title": null, "minExtent": 0}},
                "y": {"field": "y", "type": "quantitative", "scale": {"domain": [-0.5, 11.5], "nice": false, "zero": false}, "axis": {"values": [0,2,4,6,8,10], "tickSize": -3, "labels": false, "title": null, "minExtent": 0}}}},
  {"data": {"name": "curves"}, "transform": [{"filter": "datum.s === 'GA'"}], "mark": {"type": "line", "color": "black", "clip": true},
   "encoding": {"x": {"field": "x", "type": "quantitative"}, "y": {"field": "y", "type": "quantitative"}, "detail": {"field": "t"},
    "strokeDash": {"field": "t", "type": "nominal", "scale": {"domain": ["solid","dotted","dashed"], "range": [[1,0],[2,2.5],[7,4]]}, "legend": null},
    "strokeWidth": {"field": "t", "type": "nominal", "scale": {"domain": ["solid","dotted","dashed"], "range": [1.6,2,1.6]}, "legend": null}}},
  {"data": {"name": "labels"}, "transform": [{"filter": "datum.s === 'GA'"}], "mark": {"type": "text", "fontSize": 27.5, "align": "center", "baseline": "alphabetic", "color": "black"},
   "encoding": {"x": {"field": "x", "type": "quantitative"}, "y": {"field": "y", "type": "quantitative"}, "text": {"field": "name"}}}
 ]},
 {"width": 256, "height": 251, "layer": [
  {"data": {"name": "pts"}, "transform": [{"filter": "datum.s === 'CA'"}], "mark": {"type": "point", "shape": "circle", "filled": false, "size": 14, "stroke": "#4a4a4a", "strokeWidth": 0.7, "clip": true},
   "encoding": {"x": {"field": "x", "type": "quantitative", "scale": {"domain": [-2, 52], "nice": false, "zero": false}, "axis": {"values": [0,10,20,30,40,50], "tickSize": -3, "labels": false, "title": null, "minExtent": 0}},
                "y": {"field": "y", "type": "quantitative", "scale": {"domain": [-0.5, 11.5], "nice": false, "zero": false}, "axis": {"values": [0,2,4,6,8,10], "tickSize": -3, "labelAngle": 270, "labelAlign": "center", "labelBaseline": "bottom", "labelPadding": 14, "labelFontSize": 18.5, "title": "Soil respiration (µmol m⁻² s⁻¹)", "titleFontSize": 18.5, "titleAngle": 270, "titleX": -59, "titleY": 122, "titleAlign": "center", "titleBaseline": "middle"}}}},
  {"data": {"name": "curves"}, "transform": [{"filter": "datum.s === 'CA'"}], "mark": {"type": "line", "color": "black", "clip": true},
   "encoding": {"x": {"field": "x", "type": "quantitative"}, "y": {"field": "y", "type": "quantitative"}, "detail": {"field": "t"},
    "strokeDash": {"field": "t", "type": "nominal", "scale": {"domain": ["solid","dotted","dashed"], "range": [[1,0],[2,2.5],[7,4]]}, "legend": null},
    "strokeWidth": {"field": "t", "type": "nominal", "scale": {"domain": ["solid","dotted","dashed"], "range": [1.6,2,1.6]}, "legend": null}}},
  {"data": {"name": "labels"}, "transform": [{"filter": "datum.s === 'CA'"}], "mark": {"type": "text", "fontSize": 27.5, "align": "center", "baseline": "alphabetic", "color": "black"},
   "encoding": {"x": {"field": "x", "type": "quantitative"}, "y": {"field": "y", "type": "quantitative"}, "text": {"field": "name"}}}
 ]},
 {"width": 256, "height": 251, "view": {"stroke": null}, "data": {"values": []}, "mark": {"type": "point", "opacity": 0}},
 {"width": 256, "height": 251, "layer": [
  {"data": {"name": "pts"}, "transform": [{"filter": "datum.s === 'MO'"}], "mark": {"type": "point", "shape": "circle", "filled": false, "size": 14, "stroke": "#4a4a4a", "strokeWidth": 0.7, "clip": true},
   "encoding": {"x": {"field": "x", "type": "quantitative", "scale": {"domain": [-2, 52], "nice": false, "zero": false}, "axis": {"values": [0,10,20,30,40,50], "tickSize": -3, "labels": false, "title": null, "minExtent": 0}},
                "y": {"field": "y", "type": "quantitative", "scale": {"domain": [-0.5, 11.5], "nice": false, "zero": false}, "axis": {"values": [0,2,4,6,8,10], "tickSize": -3, "labelAngle": 270, "labelAlign": "center", "labelBaseline": "bottom", "labelPadding": 14, "labelFontSize": 18.5, "title": "Soil respiration (µmol m⁻² s⁻¹)", "titleFontSize": 18.5, "titleAngle": 270, "titleX": -59, "titleY": 120.5, "titleAlign": "center", "titleBaseline": "middle"}}}},
  {"data": {"name": "curves"}, "transform": [{"filter": "datum.s === 'MO'"}], "mark": {"type": "line", "color": "black", "clip": true},
   "encoding": {"x": {"field": "x", "type": "quantitative"}, "y": {"field": "y", "type": "quantitative"}, "detail": {"field": "t"},
    "strokeDash": {"field": "t", "type": "nominal", "scale": {"domain": ["solid","dotted","dashed"], "range": [[1,0],[2,2.5],[7,4]]}, "legend": null},
    "strokeWidth": {"field": "t", "type": "nominal", "scale": {"domain": ["solid","dotted","dashed"], "range": [1.6,2,1.6]}, "legend": null}}},
  {"data": {"name": "labels"}, "transform": [{"filter": "datum.s === 'MO'"}], "mark": {"type": "text", "fontSize": 27.5, "align": "center", "baseline": "alphabetic", "color": "black"},
   "encoding": {"x": {"field": "x", "type": "quantitative"}, "y": {"field": "y", "type": "quantitative"}, "text": {"field": "name"}}}
 ]},
 {"width": 256, "height": 251, "layer": [
  {"data": {"name": "pts"}, "transform": [{"filter": "datum.s === 'BR'"}], "mark": {"type": "point", "shape": "circle", "filled": false, "size": 14, "stroke": "#4a4a4a", "strokeWidth": 0.7, "clip": true},
   "encoding": {"x": {"field": "x", "type": "quantitative", "scale": {"domain": [-2, 52], "nice": false, "zero": false}, "axis": {"values": [0,10,20,30,40,50], "tickSize": -3, "labels": false, "title": null, "minExtent": 0}},
                "y": {"field": "y", "type": "quantitative", "scale": {"domain": [-0.5, 11.5], "nice": false, "zero": false}, "axis": {"values": [0,2,4,6,8,10], "tickSize": -3, "labels": false, "title": null, "minExtent": 0}}}},
  {"data": {"name": "curves"}, "transform": [{"filter": "datum.s === 'BR'"}], "mark": {"type": "line", "color": "black", "clip": true},
   "encoding": {"x": {"field": "x", "type": "quantitative"}, "y": {"field": "y", "type": "quantitative"}, "detail": {"field": "t"},
    "strokeDash": {"field": "t", "type": "nominal", "scale": {"domain": ["solid","dotted","dashed"], "range": [[1,0],[2,2.5],[7,4]]}, "legend": null},
    "strokeWidth": {"field": "t", "type": "nominal", "scale": {"domain": ["solid","dotted","dashed"], "range": [1.6,2,1.6]}, "legend": null}}},
  {"data": {"name": "labels"}, "transform": [{"filter": "datum.s === 'BR'"}], "mark": {"type": "text", "fontSize": 27.5, "align": "center", "baseline": "alphabetic", "color": "black"},
   "encoding": {"x": {"field": "x", "type": "quantitative"}, "y": {"field": "y", "type": "quantitative"}, "text": {"field": "name"}}}
 ]},
 {"width": 256, "height": 251, "layer": [
  {"data": {"name": "pts"}, "transform": [{"filter": "datum.s === 'OL'"}], "mark": {"type": "point", "shape": "circle", "filled": false, "size": 14, "stroke": "#4a4a4a", "strokeWidth": 0.7, "clip": true},
   "encoding": {"x": {"field": "x", "type": "quantitative", "scale": {"domain": [-2, 52], "nice": false, "zero": false}, "axis": {"values": [0,10,20,30,40,50], "tickSize": 4, "labelFontSize": 18.5, "labelPadding": 6, "title": "Soil temperature (°C)", "titleFontSize": 18, "titlePadding": 17}},
                "y": {"field": "y", "type": "quantitative", "scale": {"domain": [-0.5, 11.5], "nice": false, "zero": false}, "axis": {"values": [0,2,4,6,8,10], "tickSize": -3, "labelAngle": 270, "labelAlign": "center", "labelBaseline": "bottom", "labelPadding": 14, "labelFontSize": 18.5, "title": "Soil respiration (µmol m⁻² s⁻¹)", "titleFontSize": 18.5, "titleAngle": 270, "titleX": -59, "titleY": 131.5, "titleAlign": "center", "titleBaseline": "middle"}}}},
  {"data": {"name": "curves"}, "transform": [{"filter": "datum.s === 'OL'"}], "mark": {"type": "line", "color": "black", "clip": true},
   "encoding": {"x": {"field": "x", "type": "quantitative"}, "y": {"field": "y", "type": "quantitative"}, "detail": {"field": "t"},
    "strokeDash": {"field": "t", "type": "nominal", "scale": {"domain": ["solid","dotted","dashed"], "range": [[1,0],[2,2.5],[7,4]]}, "legend": null},
    "strokeWidth": {"field": "t", "type": "nominal", "scale": {"domain": ["solid","dotted","dashed"], "range": [1.6,2,1.6]}, "legend": null}}},
  {"data": {"name": "labels"}, "transform": [{"filter": "datum.s === 'OL'"}], "mark": {"type": "text", "fontSize": 27.5, "align": "center", "baseline": "alphabetic", "color": "black"},
   "encoding": {"x": {"field": "x", "type": "quantitative"}, "y": {"field": "y", "type": "quantitative"}, "text": {"field": "name"}}}
 ]},
 {"width": 256, "height": 251, "layer": [
  {"data": {"name": "pts"}, "transform": [{"filter": "datum.s === 'CL'"}], "mark": {"type": "point", "shape": "circle", "filled": false, "size": 14, "stroke": "#4a4a4a", "strokeWidth": 0.7, "clip": true},
   "encoding": {"x": {"field": "x", "type": "quantitative", "scale": {"domain": [-2, 52], "nice": false, "zero": false}, "axis": {"values": [0,10,20,30,40,50], "tickSize": 4, "labelFontSize": 18.5, "labelPadding": 6, "title": "Soil temperature (°C)", "titleFontSize": 18, "titlePadding": 17}},
                "y": {"field": "y", "type": "quantitative", "scale": {"domain": [-0.5, 11.5], "nice": false, "zero": false}, "axis": {"values": [0,2,4,6,8,10], "tickSize": -3, "labels": false, "title": null, "minExtent": 0}}}},
  {"data": {"name": "curves"}, "transform": [{"filter": "datum.s === 'CL'"}], "mark": {"type": "line", "color": "black", "clip": true},
   "encoding": {"x": {"field": "x", "type": "quantitative"}, "y": {"field": "y", "type": "quantitative"}, "detail": {"field": "t"},
    "strokeDash": {"field": "t", "type": "nominal", "scale": {"domain": ["solid","dotted","dashed"], "range": [[1,0],[2,2.5],[7,4]]}, "legend": null},
    "strokeWidth": {"field": "t", "type": "nominal", "scale": {"domain": ["solid","dotted","dashed"], "range": [1.6,2,1.6]}, "legend": null}}},
  {"data": {"name": "labels"}, "transform": [{"filter": "datum.s === 'CL'"}], "mark": {"type": "text", "fontSize": 27.5, "align": "center", "baseline": "alphabetic", "color": "black"},
   "encoding": {"x": {"field": "x", "type": "quantitative"}, "y": {"field": "y", "type": "quantitative"}, "text": {"field": "name"}}}
 ]}
]
}
